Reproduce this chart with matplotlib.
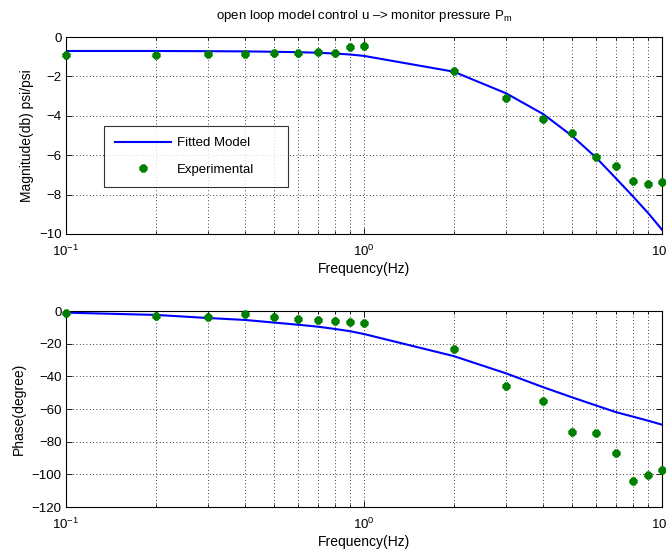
import matplotlib
matplotlib.use("Agg")
import matplotlib.pyplot as plt
from matplotlib.ticker import LogLocator, NullFormatter

plt.rcParams['font.family'] = ['Liberation Sans', 'DejaVu Sans']
plt.rcParams['mathtext.fontset'] = 'custom'
plt.rcParams['mathtext.rm'] = 'Liberation Sans'
plt.rcParams['mathtext.it'] = 'Liberation Sans'

freq = [0.1, 0.2, 0.3, 0.4, 0.5, 0.6, 0.7, 0.8, 0.9, 1.0,
        2, 3, 4, 5, 6, 7, 8, 9, 10]

mag_exp = [-0.90, -0.90, -0.86, -0.88, -0.81, -0.81, -0.76, -0.83, -0.49, -0.47,
           -1.71, -3.11, -4.14, -4.89, -6.09, -6.53, -7.29, -7.44, -7.37]
mag_model = [-0.71, -0.71, -0.72, -0.73, -0.75, -0.77, -0.80, -0.84, -0.89, -0.96,
             -1.76, -2.86, -3.92, -5.03, -6.11, -7.17, -8.10, -8.95, -9.78]

phase_exp = [-1.4, -2.9, -3.5, -2.0, -3.9, -5.1, -5.5, -5.9, -6.9, -7.1,
             -23.3, -45.7, -55.1, -73.9, -74.9, -87.0, -103.9, -100.2, -97.3]
phase_model = [-1.0, -2.4, -4.3, -5.5, -7.1, -8.4, -9.6, -11.0, -12.4, -14.1,
               -27.6, -38.2, -46.7, -52.9, -57.8, -61.9, -64.7, -67.2, -69.6]

title = "open loop model control u \u2013> monitor pressure P$_\\mathregular{m}$"

W, H = 666, 551
fig = plt.figure(figsize=(W / 100, H / 100), dpi=100)

ax1 = fig.add_axes([66 / W, 1 - 234 / H, 596 / W, 197 / H])
ax2 = fig.add_axes([66 / W, 1 - 507 / H, 596 / W, 196 / H])

green = (0, 0.5, 0)
blue = (0, 0, 1)
mk = dict(linestyle='none', marker=(8, 2, 0), markersize=5.5,
          markeredgewidth=2.4, color=green, clip_on=False, zorder=5)

for ax in (ax1, ax2):
    ax.set_xscale('log')
    ax.set_xlim(0.1, 10)
    ax.xaxis.set_major_locator(LogLocator(base=10, numticks=10))
    ax.xaxis.set_minor_locator(LogLocator(base=10, subs=range(2, 10), numticks=30))
    ax.xaxis.set_minor_formatter(NullFormatter())
    ax.tick_params(which='both', direction='in', top=True, right=True,
                   labelsize=9.5, width=0.6)
    ax.tick_params(which='major', length=4)
    ax.tick_params(which='minor', length=2.5)
    ax.tick_params(axis='x', which='major', pad=7)
    ax.tick_params(axis='y', which='major', pad=3)
    ax.grid(True, which='major', linestyle=(0, (1, 3)), color='k', linewidth=0.6)
    ax.grid(True, which='minor', axis='x', linestyle=(0, (1, 3)), color='k', linewidth=0.6)
    for s in ax.spines.values():
        s.set_linewidth(0.8)
    ax.set_xlabel('Frequency(Hz)', fontsize=10, labelpad=2)

l1, = ax1.plot(freq, mag_model, color=blue, linewidth=1.5, label='Fitted Model')
p1, = ax1.plot(freq, mag_exp, label='Experimental', **mk)
ax1.set_ylim(-10, 0)
ax1.set_yticks([-10, -8, -6, -4, -2, 0])
ax1.set_ylabel('Magnitude(db) psi/psi', fontsize=10, labelpad=4)
ax1.set_title(title, fontsize=9.5, pad=13)
leg = ax1.legend(loc='upper left',
                 bbox_to_anchor=((104 - 66) / 596, (234 - 128) / 197, (288 - 104) / 596, 0.01),
                 mode='expand',
                 fancybox=False, edgecolor='k', fontsize=9.5, borderpad=0.85,
                 handlelength=4.2, labelspacing=1.05, borderaxespad=0, handletextpad=0.5)
leg.get_frame().set_linewidth(0.8)
leg.get_frame().set_boxstyle('square', pad=0)

ax2.plot(freq, phase_model, color=blue, linewidth=1.5)
ax2.plot(freq, phase_exp, **mk)
ax2.set_ylim(-120, 0)
ax2.set_yticks([-120, -100, -80, -60, -40, -20, 0])
ax2.set_ylabel('Phase(degree)', fontsize=10, labelpad=4)

fig.savefig('out.png', dpi=100)
